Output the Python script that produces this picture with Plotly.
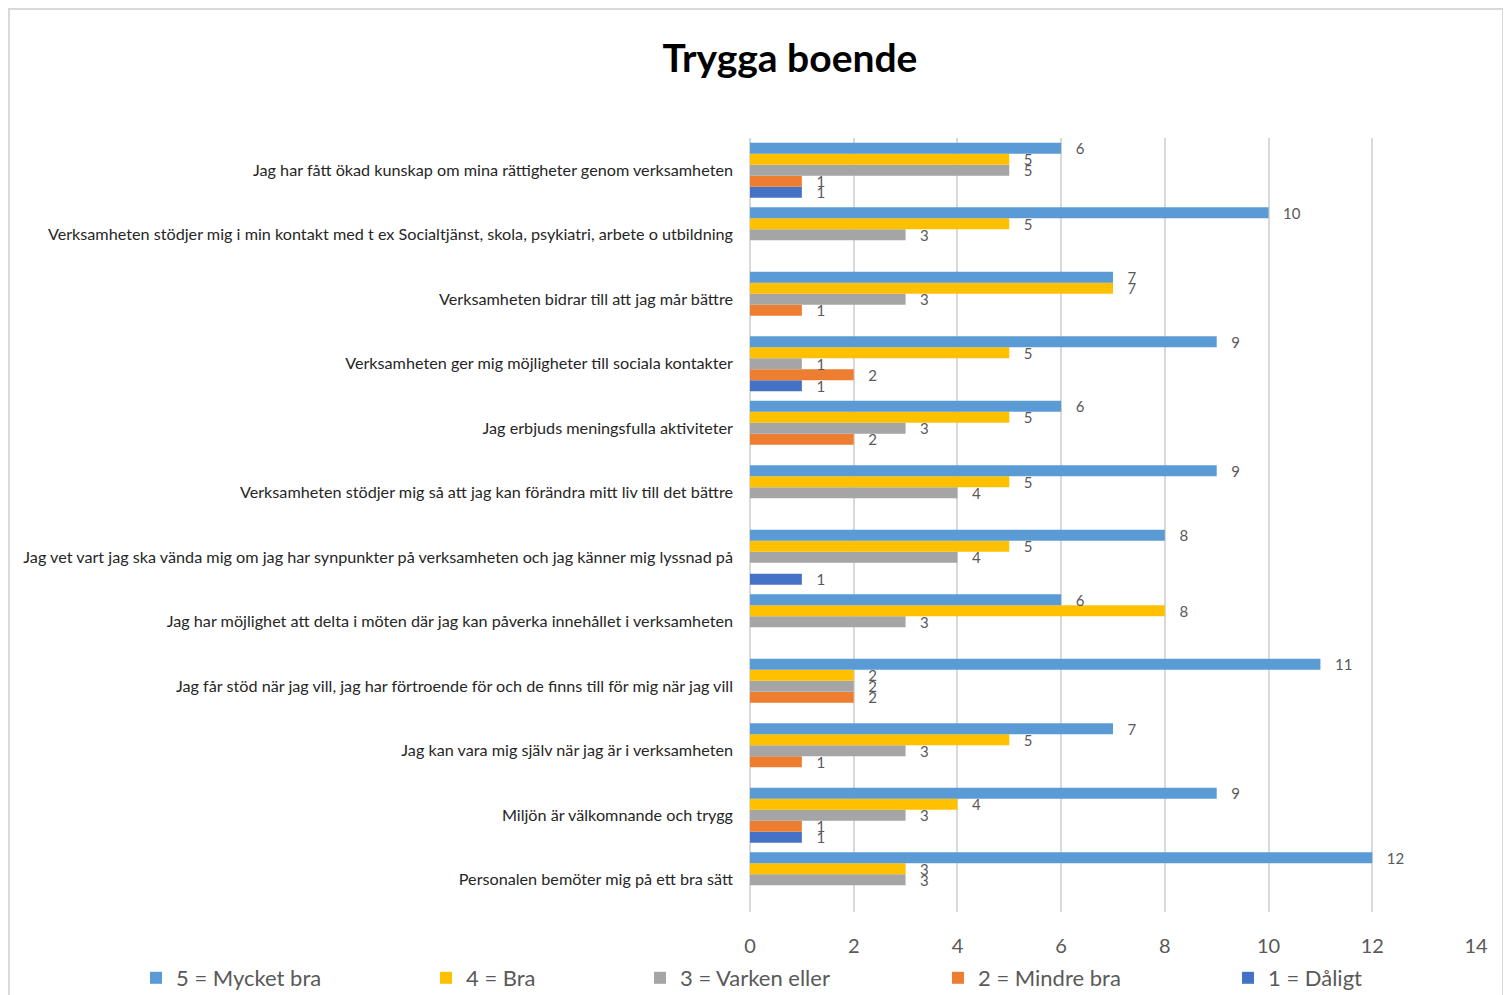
import plotly.graph_objects as go

categories = [
    "Jag har fått ökad kunskap om mina rättigheter genom verksamheten",
    "Verksamheten stödjer mig i min kontakt med t ex Socialtjänst, skola, psykiatri, arbete o utbildning",
    "Verksamheten bidrar till att jag mår bättre",
    "Verksamheten ger mig möjligheter till sociala kontakter",
    "Jag erbjuds meningsfulla aktiviteter",
    "Verksamheten stödjer mig så att jag kan förändra mitt liv till det bättre",
    "Jag vet vart jag ska vända mig om jag har synpunkter på verksamheten och jag känner mig lyssnad på",
    "Jag har möjlighet att delta i möten där jag kan påverka innehållet i verksamheten",
    "Jag får stöd när jag vill, jag har förtroende för och de finns till för mig när jag vill",
    "Jag kan vara mig själv när jag är i verksamheten",
    "Miljön är välkomnande och trygg",
    "Personalen bemöter mig på ett bra sätt",
]

s5_mycket_bra = [6, 10, 7, 9, 6, 9, 8, 6, 11, 7, 9, 12]
s4_bra = [5, 5, 7, 5, 5, 5, 5, 8, 2, 5, 4, 3]
s3_varken = [5, 3, 3, 1, 3, 4, 4, 3, 2, 3, 3, 3]
s2_mindre_bra = [1, None, 1, 2, 2, None, None, None, 2, 1, 1, None]
s1_daligt = [1, None, None, 1, None, None, 1, None, None, None, 1, None]

series_names = ["5 = Mycket bra", "4 = Bra", "3 = Varken eller", "2 = Mindre bra", "1 = Dåligt"]
series_values = [s5_mycket_bra, s4_bra, s3_varken, s2_mindre_bra, s1_daligt]
colors = ["#5B9BD5", "#FFC000", "#A5A5A5", "#ED7D31", "#4472C4"]

x_ticks = [0, 2, 4, 6, 8, 10, 12, 14]

# reverse categories so the first one is at the top
cats_plot = categories[::-1]

FONT = "Lato"
OFF = 8  # page body margin
W, H = 1511 - OFF, 995 - OFF
PL, PR, PT, PB = 750, 1476, 138, 912  # plot area in page pixels
PW, PH = PR - PL, PB - PT

fig = go.Figure()

legend_ids = ["legend", "legend2", "legend3", "legend4", "legend5"]
legend_text_start = [177, 467, 681, 979, 1269]  # page pixels
legend_x = [((t - 41) - OFF) / W for t in legend_text_start]

pad = "\u00a0\u00a0\u00a0"
for i in range(4, -1, -1):
    vals = series_values[i][::-1]
    fig.add_trace(go.Bar(
        y=cats_plot,
        x=vals,
        orientation="h",
        name=series_names[i],
        marker=dict(color=colors[i], line=dict(width=0)),
        text=[("" if v is None else pad + str(v)) for v in vals],
        textposition="outside",
        constraintext="none",
        textfont=dict(family=FONT, size=15, color="#595959"),
        cliponaxis=False,
        legend=legend_ids[i],
    ))

layout_legends = {}
for i, lid in enumerate(legend_ids):
    layout_legends[lid] = dict(
        x=legend_x[i], xref="container",
        y=1 - (978 - OFF) / H, yref="container",
        xanchor="left", yanchor="middle",
        orientation="h",
        font=dict(family=FONT, size=22, color="#595959"),
        bgcolor="rgba(0,0,0,0)",
        itemwidth=30,
    )

fig.update_layout(
    width=W, height=H,
    margin=dict(l=PL - OFF, r=1511 - PR, t=PT - OFF, b=995 - PB, autoexpand=False),
    paper_bgcolor="white",
    plot_bgcolor="white",
    title=dict(text="<b>Trygga boende</b>", x=(790 - OFF) / W, xanchor="center",
               y=1 - (58 - OFF) / H, yanchor="middle",
               font=dict(family=FONT, size=39, color="#000000")),
    barmode="group",
    bargap=0.15,
    bargroupgap=0.0,
    xaxis=dict(
        range=[0, 14], tickvals=x_ticks,
        showgrid=True, gridcolor="#D9D9D9", gridwidth=1.5,
        zeroline=True, zerolinecolor="#D9D9D9", zerolinewidth=1.5,
        showline=False,
        tickfont=dict(family=FONT, size=20, color="#595959"),
        ticks="", ticklabelstandoff=20,
    ),
    yaxis=dict(
        showgrid=False, showline=False, ticks="",
        tickfont=dict(family=FONT, size=16.2, color="#262626"),
        ticklabelstandoff=16,
    ),
    showlegend=True,
    **layout_legends,
)

fig.add_shape(type="rect", xref="paper", yref="paper",
              x0=(OFF + 1 - PL) / PW, x1=(1503 - PL) / PW,
              y0=(PB - 1000) / PH, y1=(PB - 9) / PH,
              line=dict(color="#D9D9D9", width=2), fillcolor="rgba(0,0,0,0)",
              layer="below")

fig.write_html("out.html")
